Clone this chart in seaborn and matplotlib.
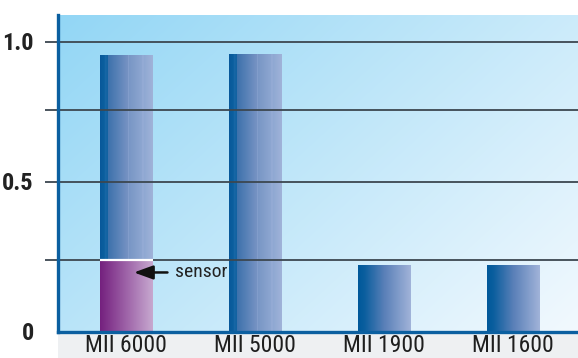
import numpy as np
import matplotlib
matplotlib.use("Agg")
import matplotlib.pyplot as plt
from matplotlib import font_manager
from matplotlib.colors import LinearSegmentedColormap
from matplotlib.patches import Rectangle
import seaborn as sns

# ---- data -------------------------------------------------------------
models = ["MII 6000", "MII 5000", "MII 1900", "MII 1600"]
totals = [0.95, 0.955, 0.23, 0.23]
sensor_model = ["MII 6000"]
sensor_share = [0.25]
y_tick_values = [0, 0.25, 0.5, 0.75, 1.0]
y_tick_labels = ["0", "", "0.5", "", "1.0"]

# ---- style ------------------------------------------------------------
sns.set_theme(style="white")
installed = {f.name for f in font_manager.fontManager.ttflist}
cond = "Roboto Condensed" if "Roboto Condensed" in installed else "DejaVu Sans"
plt.rcParams["font.family"] = [cond, "DejaVu Sans"]

# value axis with uneven spacing between grid steps
knots_v = np.array([0, 0.25, 0.5, 0.75, 1.0, 1.25])
knots_p = np.array([0, 72, 150, 222, 290, 358]) / 290.0


def fwd(v):
    return np.interp(v, knots_v, knots_p)


def inv(p):
    return np.interp(p, knots_p, knots_v)


W, H = 578, 358
fig = plt.figure(figsize=(W / 100, H / 100), dpi=100)
fig.patch.set_facecolor("white")
ax = fig.add_axes([58 / W, 26.5 / H, 520 / W, 316.5 / H])

# light strip under the category axis
fig.add_artist(Rectangle((58 / W, 0), 1 - 58 / W, 25 / H, transform=fig.transFigure,
                         facecolor="#eef0f2", edgecolor="none", zorder=0))

bar_w = 0.41
sns.barplot(x=models, y=totals, order=models, width=bar_w, color="#3b6fa9",
            saturation=1, errorbar=None, ax=ax)
n_main = len(ax.patches)
sns.barplot(x=sensor_model, y=sensor_share, order=models, width=bar_w, color="#9a5aa3",
            saturation=1, errorbar=None, ax=ax)

ax.set_yscale("function", functions=(fwd, inv))
ax.set_xlim(-0.531, 3.504)
ax.set_ylim(0, float(inv(316.5 / 290.0)))

# diagonal sky gradient behind the bars
u = np.linspace(0, 1, 400)[None, :]
v = np.linspace(0, 1, 250)[:, None]
t = np.clip(0.6 * u + 0.4 * v, 0, 1)
c0 = np.array([146, 214, 245]) / 255
c1 = np.array([242, 249, 254]) / 255
bg = c0 + (c1 - c0) * t[..., None]
ax.imshow(bg, extent=(0, 1, 0, 1), transform=ax.transAxes, aspect="auto",
          origin="upper", zorder=0, interpolation="bilinear")

# horizontal shading of the bars
tall_blue = LinearSegmentedColormap.from_list("tall_blue", [
    (0.0, "#08589a"), (0.08, "#0b5f9f"), (0.09, "#1767a7"), (0.15, "#1262a1"),
    (0.16, "#3e72ac"), (0.52, "#7592c3"), (0.53, "#89a2cf"), (0.55, "#7896c5"),
    (0.80, "#8ea7d1"), (0.81, "#9db1d9"), (0.83, "#8fa8d2"), (1.0, "#a0b3d9")])
short_blue = LinearSegmentedColormap.from_list("short_blue", [
    (0.0, "#00589a"), (0.12, "#0a5e9e"), (0.5, "#5a80b8"), (1.0, "#a1b3d9")])
purple = LinearSegmentedColormap.from_list("bar_purple", [
    (0.0, "#74207e"), (0.5, "#9e63a8"), (1.0, "#c7a9d0")])
ramp = np.linspace(0, 1, 512)[None, :]

to_axes = ax.transAxes.inverted()
for i, patch in enumerate(ax.patches):
    if i >= n_main:
        cmap = purple
    elif patch.get_height() > 0.5:
        cmap = tall_blue
    else:
        cmap = short_blue
    bb = patch.get_window_extent().transformed(to_axes)
    im = ax.imshow(ramp, cmap=cmap, extent=(bb.x0, bb.x1, bb.y0, bb.y1),
                   transform=ax.transAxes, aspect="auto", zorder=1.5,
                   interpolation="nearest")
    im.set_clip_path(patch)
    patch.set_facecolor("none")
    patch.set_edgecolor("none")
    if i >= n_main:
        ax.plot([bb.x0, bb.x1], [bb.y1, bb.y1], transform=ax.transAxes,
                color="white", lw=1.6, solid_capstyle="butt", zorder=3)

# grid, ticks and spines
ax.set_yticks(y_tick_values)
ax.set_yticklabels(y_tick_labels)
ax.grid(axis="y", color="#3c4750", lw=1.3)
ax.grid(axis="x", visible=False)
ax.set_axisbelow(False)
ax.tick_params(axis="y", which="major", left=True, length=9.4, width=1.3,
               color="#3c4750", pad=8, labelsize=17.5, labelcolor="#222222")
ax.tick_params(axis="x", length=0, pad=2, labelsize=17, labelcolor="#1e1e1e")
ax.yaxis.get_major_ticks()[0].tick1line.set_visible(False)
ax.yaxis.get_major_ticks()[0].gridline.set_visible(False)
for lbl in ax.get_yticklabels():
    lbl.set_fontweight("bold")
for side in ("top", "right"):
    ax.spines[side].set_visible(False)
for side in ("left", "bottom"):
    ax.spines[side].set_color("#0b5fa0")
    ax.spines[side].set_linewidth(2.4)
    ax.spines[side].set_zorder(4)
ax.set_xlabel("")
ax.set_ylabel("")

ax.annotate("sensor", xy=(0.058, 0.205), xytext=(0.376, 0.205),
            ha="left", va="center", fontsize=14, color="#222222",
            arrowprops=dict(arrowstyle="-|>,head_length=0.55,head_width=0.2",
                            color="#111111", lw=1.8, mutation_scale=21,
                            shrinkA=3, shrinkB=0),
            zorder=5)

fig.savefig("out.png", dpi=100)
